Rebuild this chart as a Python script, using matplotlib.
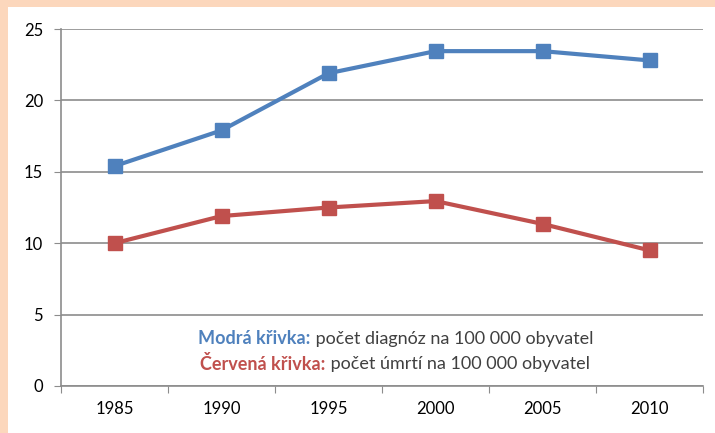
import matplotlib
matplotlib.use("Agg")
import matplotlib.pyplot as plt
from matplotlib.patches import Rectangle

years = ["1985", "1990", "1995", "2000", "2005", "2010"]
diagnozy = [15.4, 17.9, 21.9, 23.45, 23.45, 22.8]
umrti = [10.0, 11.9, 12.5, 12.95, 11.35, 9.5]
yticks = [0, 5, 10, 15, 20, 25]

BLUE = "#4F81BD"
RED = "#C0504D"
GRID = "#8C8C8C"
TXT = "#404040"

plt.rcParams['font.family'] = ['Lato', 'DejaVu Sans']

fig = plt.figure(figsize=(7.15, 4.33), dpi=100)
fig.patch.set_facecolor("#FCD7BC")
fig.patches.append(Rectangle((8/715, 0), 1, (433-7)/433, transform=fig.transFigure,
                             facecolor="white", edgecolor="none", zorder=-5))

ax = fig.add_axes([61/715, (433-386)/433, (703-61)/715, (386-29)/433])
ax.set_facecolor("none")
x = list(range(len(years)))
ax.plot(x, diagnozy, color=BLUE, lw=3, marker="s", ms=10.5, zorder=3)
ax.plot(x, umrti, color=RED, lw=3, marker="s", ms=10.5, zorder=3)

ax.set_xlim(-0.5, len(years) - 0.5)
ax.set_ylim(0, 25)
ax.set_yticks(yticks)
ax.set_yticklabels([str(v) for v in yticks], fontsize=12, color="black")
ax.set_xticks([i - 0.5 for i in range(len(years) + 1)], minor=False)
ax.set_xticklabels([""] * (len(years) + 1))
ax.set_xticks(x, minor=True)
ax.set_xticklabels(years, minor=True, fontsize=12, color="black")
ax.tick_params(axis="x", which="major", length=5, color=GRID, direction="out")
ax.tick_params(axis="x", which="minor", length=0, pad=11)
ax.tick_params(axis="y", length=5, color=GRID, direction="out", pad=8)
ax.yaxis.grid(True, color=GRID, lw=1.2)
ax.set_axisbelow(True)
for s in ["top", "right"]:
    ax.spines[s].set_visible(False)
for s in ["left", "bottom"]:
    ax.spines[s].set_color(GRID)
    ax.spines[s].set_linewidth(1.2)

t1 = ax.text(0.214, 0.132, "Modrá křivka:", transform=ax.transAxes, fontsize=13,
             fontweight="bold", color=BLUE, va="center", ha="left")
ax.annotate(" počet diagnóz na 100 000 obyvatel", xy=(1, 0.5), xycoords=t1,
            va="center", ha="left", fontsize=13, color=TXT)
t2 = ax.text(0.217, 0.062, "Červená křivka:", transform=ax.transAxes, fontsize=13,
             fontweight="bold", color=RED, va="center", ha="left")
ax.annotate(" počet úmrtí na 100 000 obyvatel", xy=(1, 0.5), xycoords=t2,
            va="center", ha="left", fontsize=13, color=TXT)

fig.savefig("out.png", dpi=100)
